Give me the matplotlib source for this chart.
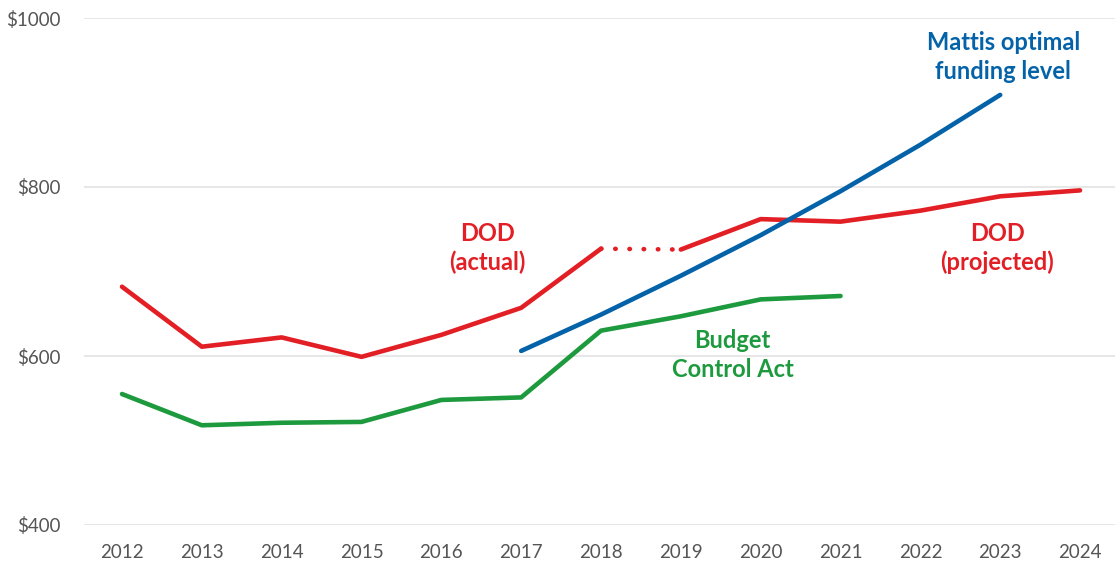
import matplotlib.pyplot as plt

plt.rcParams['font.family'] = ['Lato', 'DejaVu Sans']

# Data (billions of dollars)
years = list(range(2012, 2025))
dod_actual_years = [2012, 2013, 2014, 2015, 2016, 2017, 2018]
dod_actual = [682, 611, 622, 599, 625, 657, 727]
dod_gap_years = [2018, 2019]
dod_gap = [727, 726]
dod_proj_years = [2019, 2020, 2021, 2022, 2023, 2024]
dod_proj = [726, 762, 759, 772, 789, 796]
bca_years = [2012, 2013, 2014, 2015, 2016, 2017, 2018, 2019, 2020, 2021]
bca = [555, 518, 521, 522, 548, 551, 630, 647, 667, 671]
mattis_years = [2017, 2018, 2019, 2020, 2021, 2022, 2023]
mattis = [606, 649, 695, 743, 795, 850, 909]

red = '#E31F26'
blue = '#0463A8'
green = '#1E9A3E'

fig = plt.figure(figsize=(11.15, 5.7), dpi=100)
ax = fig.add_axes([84 / 1115, 1 - 525 / 570, 1 - 84 / 1115, (525 - 18) / 570])

ax.plot(dod_actual_years, dod_actual, color=red, lw=3.3, solid_capstyle='round', solid_joinstyle='round')
ax.plot(dod_gap_years, dod_gap, color=red, lw=3.3, linestyle=(0, (0.1, 3.0)), dash_capstyle='round')
ax.plot(dod_proj_years, dod_proj, color=red, lw=3.3, solid_capstyle='round', solid_joinstyle='round')
ax.plot(bca_years, bca, color=green, lw=3.3, solid_capstyle='round', solid_joinstyle='round')
ax.plot(mattis_years, mattis, color=blue, lw=3.3, solid_capstyle='round', solid_joinstyle='round')

ax.set_xlim(2011.524, 2024.438)
ax.set_ylim(400, 1000)
ax.set_yticks([400, 600, 800, 1000])
ax.set_yticklabels(['$400', '$600', '$800', '$1000'])
ax.set_xticks(years)
ax.set_xticklabels([str(y) for y in years])
ax.grid(axis='y', color='#e3e3e3', lw=1.2)
ax.set_axisbelow(True)
for s in ax.spines.values():
    s.set_visible(False)
ax.tick_params(length=0, labelsize=13.5, colors='#555555')
ax.tick_params(axis='y', pad=17)
ax.tick_params(axis='x', pad=14)

lab = dict(ha='center', va='center', fontsize=17, fontweight='bold', linespacing=1.3)
ax.text(2016.58, 728, 'DOD\n(actual)', color=red, **lab)
ax.text(2022.96, 728, 'DOD\n(projected)', color=red, **lab)
ax.text(2019.65, 601, 'Budget\nControl Act', color=green, **lab)
ax.text(2023.04, 954, 'Mattis optimal\nfunding level', color=blue, **lab)

plt.savefig('out.png', dpi=100)
